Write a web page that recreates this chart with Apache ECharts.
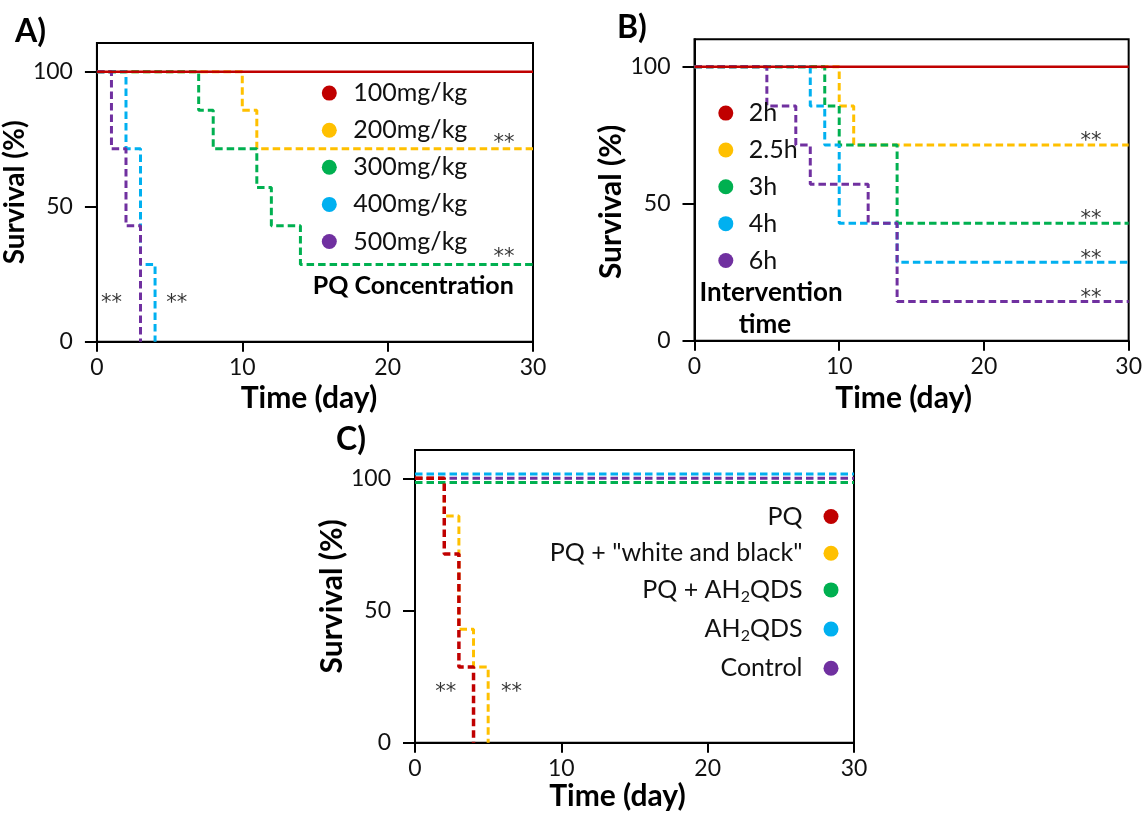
<!DOCTYPE html>
<html>
<head>
<meta charset="utf-8">
<script src="https://cdn.jsdelivr.net/npm/echarts@6/dist/echarts.min.js"></script>
<style>
html,body{margin:0;padding:0;background:#fff;}
#chart{width:1145px;height:815px;}
</style>
</head>
<body>
<div id="chart"></div>
<script>
// ---------- data ----------
const xTicks = [0, 10, 20, 30];
const yTicks = [0, 50, 100];
const colors = ['#C00000', '#FFC000', '#00B050', '#00B0F0', '#7030A0'];

// Panel A – PQ concentration
const aNames = ['100mg/kg', '200mg/kg', '300mg/kg', '400mg/kg', '500mg/kg'];
const a100Days = [0, 30];                     const a100Surv = [100, 100];
const a200Days = [0, 10, 11, 30];             const a200Surv = [100, 85.7, 71.4, 71.4];
const a300Days = [0, 7, 8, 11, 12, 14, 30];   const a300Surv = [100, 85.7, 71.4, 57.1, 42.9, 28.6, 28.6];
const a400Days = [0, 2, 3, 4];                const a400Surv = [100, 71.4, 28.6, 0];
const a500Days = [0, 1, 2, 3];                const a500Surv = [100, 71.4, 42.9, 0];
const annADays = [28, 28, 1, 5.5];            const annASurv = [75.4, 33, 16.1, 16.1];

// Panel B – intervention time
const bNames = ['2h', '2.5h', '3h', '4h', '6h'];
const b2Days = [0, 30];                       const b2Surv = [100, 100];
const b25Days = [0, 10, 11, 30];              const b25Surv = [100, 85.7, 71.4, 71.4];
const b3Days = [0, 9, 10, 14, 30];            const b3Surv = [100, 85.7, 71.4, 42.9, 42.9];
const b4Days = [0, 8, 9, 10, 14, 30];         const b4Surv = [100, 85.7, 71.4, 42.9, 28.6, 28.6];
const b6Days = [0, 5, 7, 8, 12, 14, 30];      const b6Surv = [100, 85.7, 71.4, 57.1, 42.9, 14.3, 14.3];
const annBDays = [27.4, 27.4, 27.4, 27.4];    const annBSurv = [74.5, 45.9, 31.6, 17.3];

// Panel C – treatments
const cNames = ['PQ', 'PQ + "white and black"', 'PQ + AH2QDS', 'AH2QDS', 'Control'];
const cPQDays = [0, 2, 3, 4];                 const cPQSurv = [100, 71.4, 28.6, 0];
const cWBDays = [0, 2, 3, 4, 5];              const cWBSurv = [100, 85.7, 42.9, 28.6, 0];
const cPQAHDays = [0, 30];                    const cPQAHSurv = [98.4, 98.4];
const cAHDays = [0, 30];                      const cAHSurv = [101.6, 101.6];
const cCtrlDays = [0, 30];                    const cCtrlSurv = [100, 100];
const annCDays = [2.1, 6.6];                  const annCSurv = [21, 21];

// ---------- helpers ----------
const FONT = 'Lato';
const pairs = (xs, ys) => xs.map((x, i) => [x, ys[i]]);

function stepSeries(name, grid, xs, ys, color, opts) {
  opts = opts || {};
  return {
    type: 'line', name: name, xAxisIndex: grid, yAxisIndex: grid,
    data: pairs(xs, ys), step: 'end', symbol: 'none', color: color,
    itemStyle: {color: color},
    z: opts.z || 2,
    lineStyle: {color: color, width: opts.width || 3, type: opts.solid ? 'solid' : [7.5, 4]},
    animation: false
  };
}
function annSeries(grid, xs, ys) {
  return {
    type: 'scatter', xAxisIndex: grid, yAxisIndex: grid, data: pairs(xs, ys),
    symbolSize: 0, silent: true, animation: false,
    label: {show: true, position: 'inside', formatter: '**', offset: [0, 5],
      fontFamily: 'DejaVu Sans', fontSize: 21, color: '#000'}
  };
}
function xAx(grid, gap, shift) {
  return {
    type: 'value', gridIndex: grid, min: xTicks[0], max: xTicks[xTicks.length - 1], interval: 10,
    axisLine: {show: true, onZero: false, lineStyle: {color: '#000', width: 2}},
    axisTick: {show: true, length: 10, lineStyle: {color: '#000', width: 2}},
    axisLabel: {margin: 14, fontFamily: FONT, fontSize: 23, color: '#111'},
    splitLine: {show: false},
    name: 'Time (day)', nameLocation: 'middle', nameGap: gap,
    nameTextStyle: {fontFamily: FONT, fontWeight: 'bold', fontSize: 30, color: '#000',
      padding: [0, shift * 2, 0, 0]}
  };
}
function yAx(grid, max, gap, size, pad) {
  return {
    type: 'value', gridIndex: grid, min: 0, max: max, interval: 50,
    axisLine: {show: true, lineStyle: {color: '#000', width: 2}},
    axisTick: {show: true, length: 12, customValues: yTicks, lineStyle: {color: '#000', width: 2}},
    axisLabel: {customValues: yTicks, margin: 24, fontFamily: FONT, fontSize: 23, color: '#111'},
    splitLine: {show: false},
    name: 'Survival (%)', nameLocation: 'middle', nameGap: gap, nameRotate: 90,
    nameTextStyle: {fontFamily: FONT, fontWeight: 'bold', fontSize: size, color: '#000', padding: pad || 0}
  };
}
const legendRich = {
  n: {fontFamily: FONT, fontSize: 25, lineHeight: 30, color: '#111'},
  s: {fontFamily: FONT, fontSize: 16, lineHeight: 16, verticalAlign: 'bottom', color: '#111'}
};
function legendFmt(name) {
  if (name.indexOf('AH2QDS') >= 0) {
    const pre = name.replace('AH2QDS', '');
    return '{n|' + pre + 'AH}{s|2}{n|QDS}';
  }
  return '{n|' + name + '}';
}
function legend(names, pos, itemWidth, gap, align) {
  return Object.assign({
    orient: 'vertical', padding: 0, itemWidth: itemWidth, itemHeight: 15, itemGap: gap,
    icon: 'circle', data: names, selectedMode: false, align: align || 'left',
    itemStyle: {borderWidth: 0},
    formatter: legendFmt,
    textStyle: {fontFamily: FONT, fontSize: 25, color: '#111', rich: legendRich}
  }, pos);
}
const gridStyle = {show: true, borderColor: '#000', borderWidth: 2, backgroundColor: 'transparent'};
const bold = (t, x, y, size, align) => ({
  type: 'text', x: x, y: y, silent: true,
  style: {text: t, fontFamily: FONT, fontWeight: 'bold', fontSize: size, fill: '#000',
    align: align || 'left', verticalAlign: 'middle'}
});

// ---------- option ----------
const option = {
  backgroundColor: '#fff',
  animation: false,
  grid: [
    Object.assign({left: 94, top: 43, width: 439, height: 298.7}, gridStyle),
    Object.assign({left: 694.5, top: 39.3, width: 436.5, height: 301.4}, gridStyle),
    Object.assign({left: 415, top: 450, width: 439, height: 292.7}, gridStyle)
  ],
  xAxis: [xAx(0, 42, 6), xAx(1, 43, 8), xAx(2, 39, 17)],
  yAxis: [yAx(0, 110.6, 57, 28), yAx(1, 110, 54, 30, [0, 24, 0, 0]), yAx(2, 110.7, 56, 30)],
  legend: [
    legend(aNames, {left: 321.8, top: 80.6}, 38, 12.1),
    legend(bNames, {left: 718.3, top: 100.6}, 36, 11.85),
    legend(cNames, {right: 306.5, top: 504}, 47, 11.7, 'right')
  ],
  graphic: [
    bold('A)', 15, 31.5, 32),
    bold('B)', 617, 27.5, 32),
    bold('C)', 336, 440, 32),
    bold('PQ Concentration', 312.7, 286, 25),
    bold('Intervention', 771, 292.5, 26, 'center'),
    bold('time', 765, 325, 26, 'center')
  ],
  series: [
    stepSeries(aNames[0], 0, a100Days, a100Surv, colors[0], {solid: true, width: 2.5, z: 5}),
    stepSeries(aNames[1], 0, a200Days, a200Surv, colors[1]),
    stepSeries(aNames[2], 0, a300Days, a300Surv, colors[2]),
    stepSeries(aNames[3], 0, a400Days, a400Surv, colors[3]),
    stepSeries(aNames[4], 0, a500Days, a500Surv, colors[4]),
    annSeries(0, annADays, annASurv),

    stepSeries(bNames[0], 1, b2Days, b2Surv, colors[0], {solid: true, width: 2.5, z: 5}),
    stepSeries(bNames[1], 1, b25Days, b25Surv, colors[1]),
    stepSeries(bNames[2], 1, b3Days, b3Surv, colors[2]),
    stepSeries(bNames[3], 1, b4Days, b4Surv, colors[3]),
    stepSeries(bNames[4], 1, b6Days, b6Surv, colors[4]),
    annSeries(1, annBDays, annBSurv),

    stepSeries(cNames[0], 2, cPQDays, cPQSurv, colors[0], {width: 3.5, z: 5}),
    stepSeries(cNames[1], 2, cWBDays, cWBSurv, colors[1]),
    stepSeries(cNames[2], 2, cPQAHDays, cPQAHSurv, colors[2]),
    stepSeries(cNames[3], 2, cAHDays, cAHSurv, colors[3]),
    stepSeries(cNames[4], 2, cCtrlDays, cCtrlSurv, colors[4]),
    annSeries(2, annCDays, annCSurv)
  ]
};

const chart = echarts.init(document.getElementById('chart'), null, {renderer: 'canvas'});
chart.setOption(option);
</script>
</body>
</html>
